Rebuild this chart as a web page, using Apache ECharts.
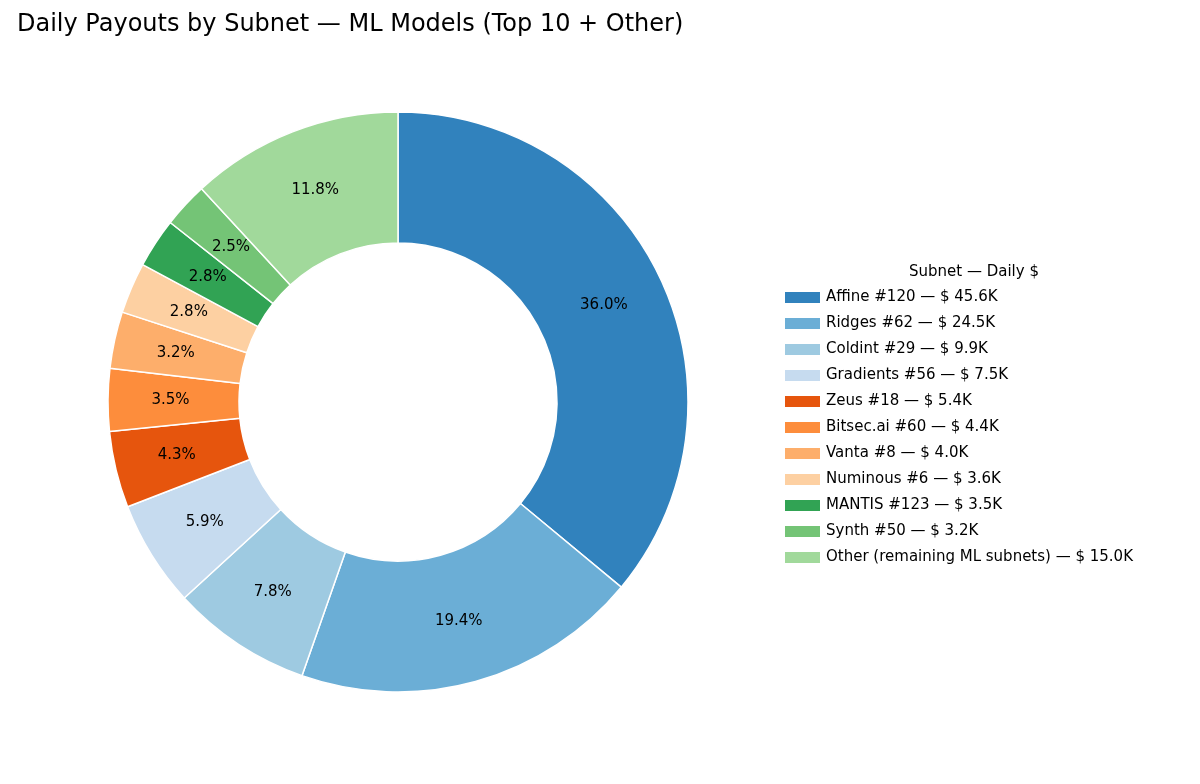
<!DOCTYPE html>
<html><head><meta charset="utf-8">
<script src="https://cdn.jsdelivr.net/npm/echarts@6/dist/echarts.min.js"></script>
<style>html,body{margin:0;background:#fff}#c{width:1200px;height:784px}</style>
</head><body><div id="c"></div>
<script>
const categories=["Affine #120","Ridges #62","Coldint #29","Gradients #56","Zeus #18","Bitsec.ai #60","Vanta #8","Numinous #6","MANTIS #123","Synth #50","Other (remaining ML subnets)"];
const valuesK=[45.6,24.5,9.9,7.5,5.4,4.4,4.0,3.6,3.5,3.2,15.0];
const colors=["#3182bd","#6baed6","#9ecae1","#c6dbef","#e6550d","#fd8d3c","#fdae6b","#fdd0a2","#31a354","#74c476","#a1d99b"];
const total=valuesK.reduce((a,b)=>a+b,0);
const data=categories.map((c,i)=>({name:c+" — $ "+valuesK[i].toFixed(1)+"K",value:valuesK[i],itemStyle:{color:colors[i]}}));
const chart=echarts.init(document.getElementById('c'));
chart.setOption({
 animation:false,
 textStyle:{fontFamily:"DejaVu Sans"},
 title:[{text:"Daily Payouts by Subnet — ML Models (Top 10 + Other)",left:12,top:8,textStyle:{fontSize:24,fontWeight:"normal",color:"#000",fontFamily:"DejaVu Sans"}},
        {text:"Subnet — Daily $",left:904,top:260,textStyle:{fontSize:15,fontWeight:"normal",color:"#000",fontFamily:"DejaVu Sans"}}],
 legend:{orient:"vertical",left:778,top:285,itemWidth:37,itemHeight:13,itemGap:11,icon:"rect",
   textStyle:{fontSize:15,color:"#000",fontFamily:"DejaVu Sans"}},
 series:[{type:"pie",center:[398,402],radius:[159,290],startAngle:90,clockwise:true,
   itemStyle:{borderColor:"#fff",borderWidth:1.5},
   label:{position:"inside",fontSize:15,color:"#000",fontFamily:"DejaVu Sans",
     formatter:p=>(p.value/total*100).toFixed(1)+"%"},
   labelLine:{show:false},emphasis:{disabled:true},data:data}]
});
</script></body></html>
